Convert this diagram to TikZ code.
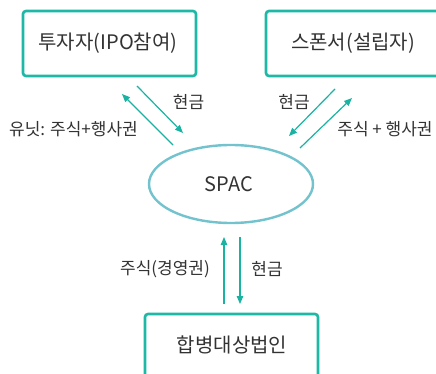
\documentclass[tikz,border=0pt]{standalone}
\usepackage{fontspec}
\setmainfont{Noto Sans CJK KR}
\usetikzlibrary{arrows.meta}
\definecolor{boxteal}{HTML}{1DB8A6}
\definecolor{arrteal}{HTML}{1AB3A2}
\definecolor{ellblue}{HTML}{72C3CE}
\definecolor{txt}{HTML}{333333}
\tikzset{
  entity/.style={draw=boxteal, line width=2.6pt, rounded corners=3pt, inner sep=0pt},
  boxtext/.style={font=\fontsize{20}{22}\selectfont, text=txt},
  lbl/.style={font=\fontsize{17}{19}\selectfont, text=txt, inner sep=0pt},
  flow/.style={draw=arrteal, line width=1.2pt, -{Triangle[length=8pt,width=6.5pt]}},
}
\begin{document}
\begin{tikzpicture}[x=1pt,y=-1pt]
\useasboundingbox (0,0) rectangle (436,374);
\fill[white] (0,0) rectangle (436,374);
% boxes
\draw[entity] (23,11) rectangle (196,76);
\node[boxtext] (inv) at (108,43.5) {투자자(IPO참여)};
\draw[entity] (266,11) rectangle (440,76);
\node[boxtext] (spo) at (353,43.5) {스폰서(설립자)};
\draw[entity] (145,314) rectangle (318,400);
\node[boxtext] (tgt) at (232,345) {합병대상법인};
% ellipse
\draw[ellblue, line width=2.4pt] (231,184) ellipse [x radius=82, y radius=39];
\node[font=\fontsize{20}{22}\selectfont, text=txt] (spac) at (229,184) {SPAC};
% arrow endpoints
\coordinate (a1) at (173,145); \coordinate (a2) at (122,94);
\coordinate (b1) at (137,86);  \coordinate (b2) at (183,133);
\coordinate (c1) at (335,89);  \coordinate (c2) at (289,136);
\coordinate (d1) at (300,148); \coordinate (d2) at (352,98);
\coordinate (e1) at (224,304); \coordinate (e2) at (224,237);
\coordinate (f1) at (240,237); \coordinate (f2) at (240,304);
\draw[flow] (a1) -- (a2);
\draw[flow] (b1) -- (b2);
\draw[flow] (c1) -- (c2);
\draw[flow] (d1) -- (d2);
\draw[flow] (e1) -- (e2);
\draw[flow] (f1) -- (f2);
% labels
\node[lbl] (l1) at (188.5,102) {현금};
\node[lbl] (l2) at (73.5,129) {유닛: 주식+행사권};
\node[lbl] (l3) at (294,102) {현금};
\node[lbl] (l4) at (385,129) {주식 + 행사권};
\node[lbl] (l5) at (165,269) {주식(경영권)};
\node[lbl] (l6) at (267,269) {현금};
\end{tikzpicture}
\end{document}
